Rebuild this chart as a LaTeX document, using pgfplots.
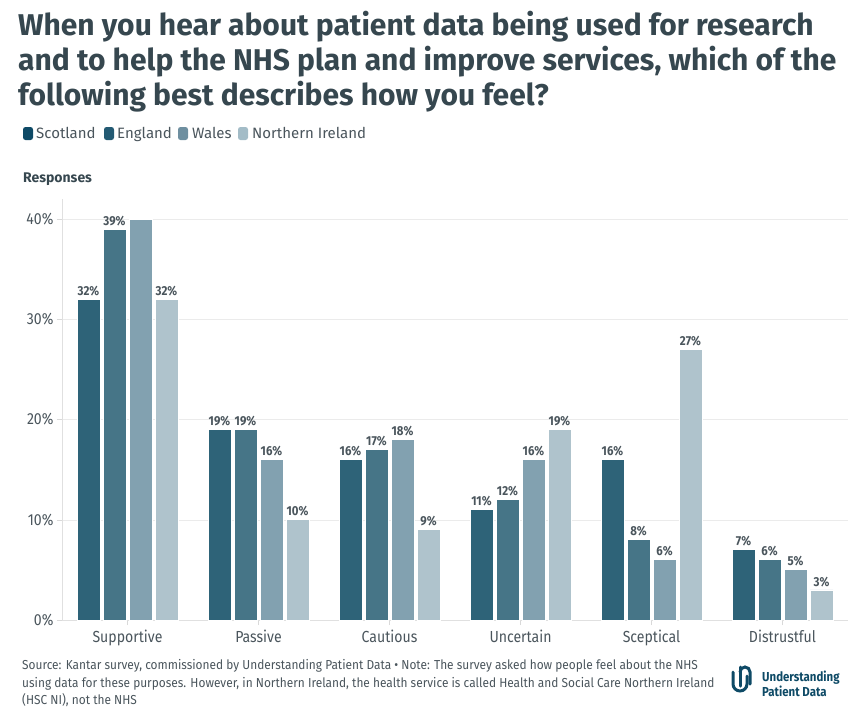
\documentclass[border=0pt]{standalone}
\usepackage{pgfplots}
\pgfplotsset{compat=1.18}
\usepackage{fontspec}
\setmainfont{Fira Sans}
\newfontfamily\cond[FakeStretch=0.88]{Fira Sans}
\newfontfamily\condf[FakeStretch=0.915]{Fira Sans}
\definecolor{cSco}{HTML}{2E6378}
\definecolor{cEng}{HTML}{467587}
\definecolor{cWal}{HTML}{82A1B0}
\definecolor{cNI}{HTML}{AFC3CC}
\definecolor{lSco}{HTML}{0E4A66}
\definecolor{lEng}{HTML}{235A73}
\definecolor{lWal}{HTML}{6E8FA0}
\definecolor{lNI}{HTML}{A3BCC7}
\definecolor{ttl}{HTML}{36474F}
\definecolor{txt}{HTML}{4A555C}
\definecolor{logo}{HTML}{0E4A66}
\begin{document}
\begin{tikzpicture}
\useasboundingbox (0,0) rectangle (867pt,-716pt);
% title
\begin{scope}[every node/.style={anchor=base west, inner sep=0pt, text=ttl, font=\fontsize{30}{33}\selectfont\bfseries}]
\node at (18pt,-35pt) {When you hear about patient data being used for research};
\node at (18pt,-70pt) {and to help the NHS plan and improve services, which of the};
\node at (18pt,-105pt) {following best describes how you feel?};
\end{scope}
% legend
\begin{scope}[every node/.style={anchor=base west, inner sep=0pt, text=txt, font=\fontsize{15}{15}\selectfont}]
\fill[lSco, rounded corners=2.5pt] (23pt,-127pt) rectangle (33pt,-140pt);
\node at (36pt,-138pt) {Scotland};
\fill[lEng, rounded corners=2.5pt] (104pt,-127pt) rectangle (114pt,-140pt);
\node at (117pt,-138pt) {England};
\fill[lWal, rounded corners=2.5pt] (178pt,-127pt) rectangle (188pt,-140pt);
\node at (192pt,-138pt) {Wales};
\fill[lNI, rounded corners=2.5pt] (238pt,-127pt) rectangle (248pt,-140pt);
\node at (252pt,-138pt) {Northern Ireland};
\end{scope}
\node[anchor=base west, inner sep=0pt, text=ttl, font=\fontsize{14}{14}\selectfont\bfseries] at (23pt,-182pt) {Responses};
\begin{axis}[
  at={(62pt,-620pt)}, anchor=south west,
  scale only axis, width=786pt, height=421pt,
  xmin=-0.5, xmax=5.5, ymin=0, ymax=42,
  ybar=3pt, bar width=23pt,
  axis x line*=bottom, axis y line*=left,
  axis line style={draw=black!12, -},
  ymajorgrids, grid style={draw=black!8},
  xtick={0,1,2,3,4,5},
  xticklabels={Supportive,Passive,Cautious,Uncertain,Sceptical,Distrustful},
  ytick={0,10,20,30,40},
  yticklabels={0\%,10\%,20\%,30\%,40\%},
  tick align=outside, major tick length=5pt,
  tick style={draw=black!15},
  x tick label style={font=\cond\fontsize{16}{16}\selectfont, text=txt, yshift=-1pt},
  y tick label style={font=\cond\fontsize{16}{16}\selectfont, text=txt},
  point meta=explicit symbolic,
  nodes near coords,
  every node near coord/.append style={font=\cond\bfseries\fontsize{13}{13}\selectfont, text=txt, inner sep=3pt},
  every axis plot/.append style={draw=white, line width=0.8pt},
]
\addplot[fill=cSco] coordinates {(0,32)[32\%] (1,19)[19\%] (2,16)[16\%] (3,11)[11\%] (4,16)[16\%] (5,7)[7\%]};
\addplot[fill=cEng] coordinates {(0,39)[39\%] (1,19)[19\%] (2,17)[17\%] (3,12)[12\%] (4,8)[8\%] (5,6)[6\%]};
\addplot[fill=cWal] coordinates {(0,40)[] (1,16)[16\%] (2,18)[18\%] (3,16)[16\%] (4,6)[6\%] (5,5)[5\%]};
\addplot[fill=cNI] coordinates {(0,32)[32\%] (1,10)[10\%] (2,9)[9\%] (3,19)[19\%] (4,27)[27\%] (5,3)[3\%]};
\end{axis}
% footer
\begin{scope}[every node/.style={anchor=base west, inner sep=0pt, text=txt, font=\condf\fontsize{13}{13}\selectfont}]
\node at (22pt,-669pt) {Source: Kantar survey, commissioned by Understanding Patient Data \textbullet{} Note: The survey asked how people feel about the NHS};
\node at (22pt,-687pt) {using data for these purposes. However, in Northern Ireland, the health service is called Health and Social Care Northern Ireland};
\node at (22pt,-704pt) {(HSC NI), not the NHS};
\end{scope}
% logo
\begin{scope}[draw=logo, line width=3pt, line cap=round]
\draw (733pt,-672pt) -- (733pt,-684pt) arc (180:360:7pt) -- (747pt,-676pt);
\draw (740pt,-667pt) -- (740pt,-686pt);
\draw (740pt,-672pt) arc (180:0:5pt) -- (750pt,-684pt);
\end{scope}
\node[anchor=base west, inner sep=0pt, text=logo, font=\cond\fontsize{13}{13}\selectfont\bfseries] at (762pt,-681pt) {Understanding};
\node[anchor=base west, inner sep=0pt, text=logo, font=\cond\fontsize{13}{13}\selectfont\bfseries] at (762pt,-696pt) {Patient Data};
\end{tikzpicture}
\end{document}
